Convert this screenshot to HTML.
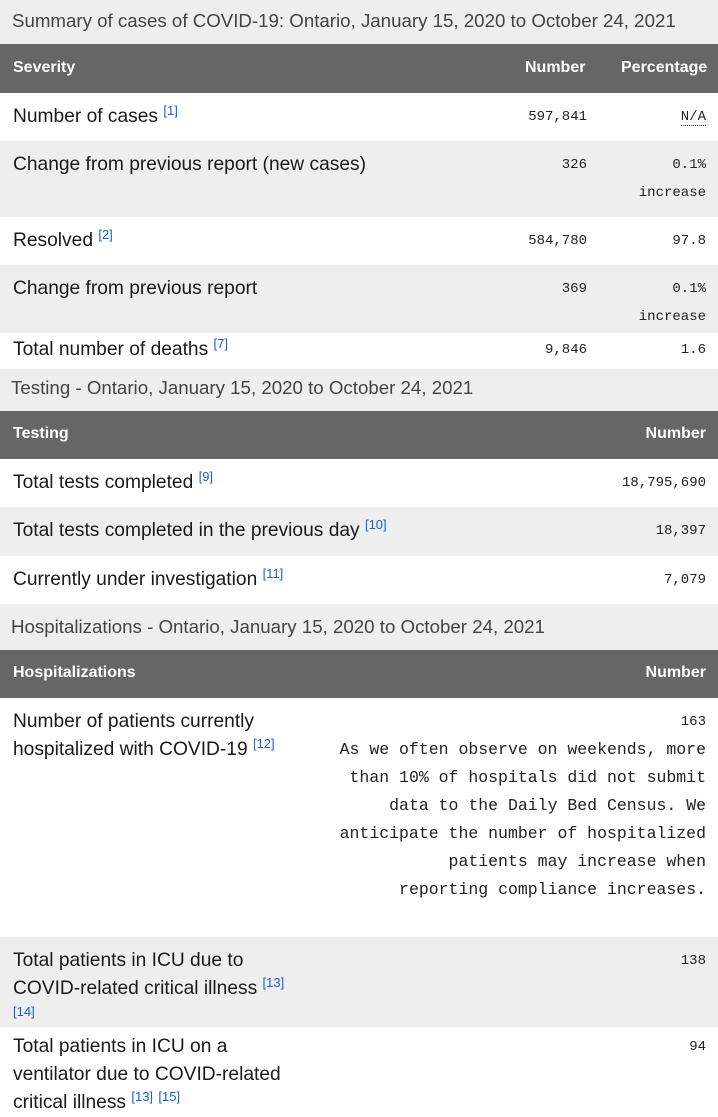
<!DOCTYPE html>
<html><head><meta charset="utf-8"><style>
*{margin:0;padding:0;box-sizing:border-box}
body{width:718px;height:1117px;position:relative;background:#fff;font-family:"Liberation Sans",sans-serif;color:#1a1a1a;overflow:hidden}
.b{position:absolute;left:0;width:718px}
.t{position:absolute;white-space:nowrap;height:24px;line-height:24px}
.cap{font-size:18.7px;color:#444}
.hd{font-size:16px;color:#fff;font-weight:bold}
.lb{font-size:19.2px}
.m{font-family:"Liberation Mono",monospace;font-size:14px;color:#222}
.n{font-family:"Liberation Mono",monospace;font-size:16.5px;color:#222}
.r{text-align:right}
sup{color:#1a5fd6;font-size:13px;vertical-align:0;position:relative;top:-7px}
.s{color:#1a5fd6;font-size:13px}
</style></head><body>
<div class="b" style="top:0;height:44px;background:#eeeeee"></div>
<div class="b" style="top:44px;height:49px;background:#666"></div>
<div class="b" style="top:141px;height:76px;background:#eeeeee"></div>
<div class="b" style="top:265px;height:68px;background:#eeeeee"></div>
<div class="b" style="top:369px;height:42px;background:#eeeeee"></div>
<div class="b" style="top:411px;height:48px;background:#666"></div>
<div class="b" style="top:507px;height:49px;background:#eeeeee"></div>
<div class="b" style="top:604px;height:46px;background:#eeeeee"></div>
<div class="b" style="top:650px;height:48px;background:#666"></div>
<div class="b" style="top:937px;height:90px;background:#eeeeee"></div>

<div class="t cap" style="left:12px;top:9px">Summary of cases of COVID-19: Ontario, January 15, 2020 to October 24, 2021</div>
<div class="t hd" style="left:13px;top:56px">Severity</div>
<div class="t hd" style="left:525px;top:56px">Number</div>
<div class="t hd" style="left:621px;top:56px">Percentage</div>

<div class="t lb" style="left:13px;top:105px">Number of cases <sup>[1]</sup></div>
<div class="t m r" style="right:131px;top:105px">597,841</div>
<div class="t m r" style="right:12px;top:105px"><span style="border-bottom:1px dotted #444">N/A</span></div>

<div class="t lb" style="left:13px;top:153px">Change from previous report (new cases)</div>
<div class="t m r" style="right:131px;top:153px">326</div>
<div class="t m r" style="right:12px;top:153px">0.1%</div>
<div class="t m r" style="right:12px;top:181px">increase</div>

<div class="t lb" style="left:13px;top:229px">Resolved <sup>[2]</sup></div>
<div class="t m r" style="right:131px;top:229px">584,780</div>
<div class="t m r" style="right:12px;top:229px">97.8</div>

<div class="t lb" style="left:13px;top:277px">Change from previous report</div>
<div class="t m r" style="right:131px;top:277px">369</div>
<div class="t m r" style="right:12px;top:277px">0.1%</div>
<div class="t m r" style="right:12px;top:305px">increase</div>

<div class="t lb" style="left:13px;top:338px">Total number of deaths <sup>[7]</sup></div>
<div class="t m r" style="right:131px;top:338px">9,846</div>
<div class="t m r" style="right:12px;top:338px">1.6</div>

<div class="t cap" style="left:11px;top:376px">Testing - Ontario, January 15, 2020 to October 24, 2021</div>
<div class="t hd" style="left:13px;top:422px">Testing</div>
<div class="t hd" style="right:12px;top:422px">Number</div>
<div class="t lb" style="left:13px;top:471px">Total tests completed <sup>[9]</sup></div>
<div class="t m r" style="right:12px;top:471px">18,795,690</div>
<div class="t lb" style="left:13px;top:519px">Total tests completed in the previous day <sup>[10]</sup></div>
<div class="t m r" style="right:12px;top:519px">18,397</div>
<div class="t lb" style="left:13px;top:568px">Currently under investigation <sup>[11]</sup></div>
<div class="t m r" style="right:12px;top:568px">7,079</div>

<div class="t cap" style="left:11px;top:615px">Hospitalizations - Ontario, January 15, 2020 to October 24, 2021</div>
<div class="t hd" style="left:13px;top:661px">Hospitalizations</div>
<div class="t hd" style="right:12px;top:661px">Number</div>

<div class="t lb" style="left:13px;top:710px">Number of patients currently</div>
<div class="t lb" style="left:13px;top:738px">hospitalized with COVID-19 <sup>[12]</sup></div>
<div class="t m r" style="right:12px;top:710px">163</div>
<div class="t n r" style="right:12px;top:738px">As we often observe on weekends, more</div>
<div class="t n r" style="right:12px;top:766px">than 10% of hospitals did not submit</div>
<div class="t n r" style="right:12px;top:794px">data to the Daily Bed Census. We</div>
<div class="t n r" style="right:12px;top:822px">anticipate the number of hospitalized</div>
<div class="t n r" style="right:12px;top:850px">patients may increase when</div>
<div class="t n r" style="right:12px;top:878px">reporting compliance increases.</div>

<div class="t lb" style="left:13px;top:949px">Total patients in ICU due to</div>
<div class="t lb" style="left:13px;top:977px">COVID-related critical illness <sup>[13]</sup></div>
<div class="t s" style="left:13px;top:1000px">[14]</div>
<div class="t m r" style="right:12px;top:949px">138</div>

<div class="t lb" style="left:13px;top:1035px">Total patients in ICU on a</div>
<div class="t lb" style="left:13px;top:1063px">ventilator due to COVID-related</div>
<div class="t lb" style="left:13px;top:1091px">critical illness <sup>[13]</sup> <sup>[15]</sup></div>
<div class="t m r" style="right:12px;top:1035px">94</div>
</body></html>
